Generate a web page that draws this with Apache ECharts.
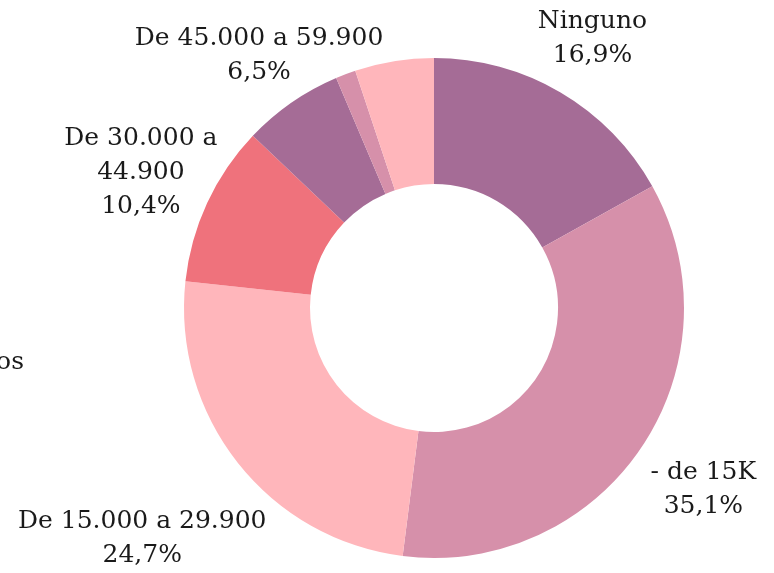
<!DOCTYPE html>
<html>
<head>
<meta charset="utf-8">
<script src="https://cdn.jsdelivr.net/npm/echarts@6/dist/echarts.min.js"></script>
<style>
  html, body { margin: 0; padding: 0; background: #fff; }
  #chart { width: 774px; height: 573px; }
</style>
</head>
<body>
<div id="chart"></div>
<script type="text/javascript">
var categories = ['Ninguno', '- de 15K', 'De 15.000 a 29.900', 'De 30.000 a\n44.900', 'De 45.000 a 59.900', 'De 60.000 o más', 'Sin datos'];
var values = [16.9, 35.1, 24.7, 10.4, 6.5, 1.3, 5.1];
var colors = ['#a56c96', '#d690aa', '#ffb6bb', '#ef727c', '#a56c96', '#d690aa', '#ffb6bb'];
// distance of each label centre from the pie centre
var labelRadius = [313, 325, 372, 323, 307, 0, 0];

var cx = 434, cy = 308;
var total = values.reduce(function (a, b) { return a + b; }, 0);

function midAngle(i) {
    var before = 0;
    for (var k = 0; k < i; k++) before += values[k];
    return (before + values[i] / 2) / total * Math.PI * 2;
}

var myChart = echarts.init(document.getElementById('chart'));
var option = {
    animation: false,
    textStyle: { fontFamily: 'DejaVu Serif' },
    graphic: [{
        type: 'text',
        left: -94,
        top: 345,
        style: {
            text: 'Sin datos\n5,1%',
            font: '25px "DejaVu Serif"',
            fill: '#1a1a1a',
            align: 'right',
            lineHeight: 34
        }
    }],
    series: [{
        type: 'pie',
        center: [cx, cy],
        radius: [124, 250],
        startAngle: 90,
        clockwise: true,
        avoidLabelOverlap: false,
        data: categories.map(function (name, i) {
            return {
                name: name,
                value: values[i],
                itemStyle: { color: colors[i] },
                label: { show: i < 5 }
            };
        }),
        label: {
            position: 'outside',
            color: '#1a1a1a',
            fontSize: 25,
            lineHeight: 34,
            align: 'center',
            formatter: function (p) {
                return p.name + '\n' + p.value.toFixed(1).replace('.', ',') + '%';
            }
        },
        labelLine: { show: false },
        labelLayout: function (params) {
            var i = params.dataIndex;
            var a = midAngle(i);
            var r = labelRadius[i];
            return {
                x: cx + r * Math.sin(a),
                y: cy - r * Math.cos(a),
                align: 'center',
                verticalAlign: 'middle'
            };
        },
        emphasis: { disabled: true }
    }]
};
myChart.setOption(option);
window.addEventListener('resize', function () {
    myChart.resize();
});
</script>
</body>
</html>
